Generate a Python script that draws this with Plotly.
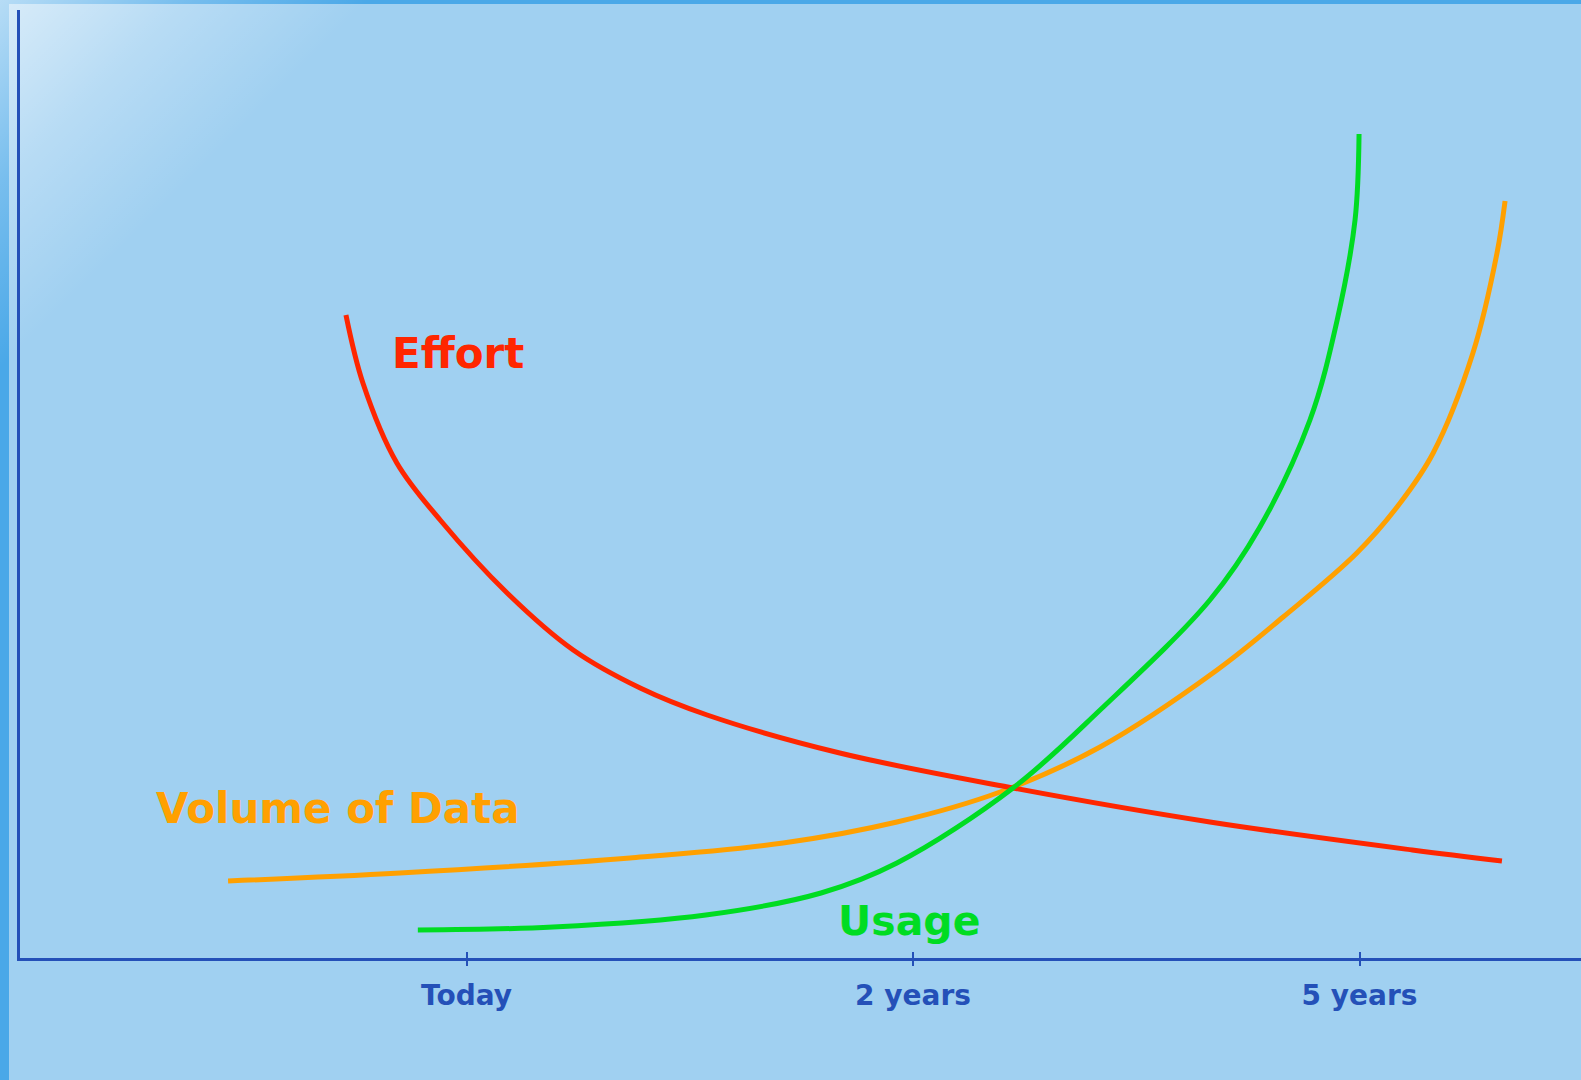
import base64
import plotly.graph_objects as go

# ---- data (x in "years axis" units: Today=1, 2 years=2, 5 years=3) ----
tick_vals = [1, 2, 3]
tick_text = ["Today", "2 years", "5 years"]

effort_x = [0.730, 0.768, 0.844, 0.941, 1.091, 1.239, 1.389, 1.539, 1.836, 2.224, 2.665, 3.118, 3.319]
effort_y = [6.43, 5.75, 4.95, 4.38, 3.65, 3.08, 2.70, 2.43, 2.05, 1.70, 1.36, 1.08, 0.97]

usage_x = [0.891, 1.194, 1.536, 1.794, 1.964, 2.224, 2.419, 2.665, 2.777, 2.889, 2.950, 2.990, 2.999]
usage_y = [0.28, 0.31, 0.43, 0.65, 0.95, 1.70, 2.48, 3.58, 4.31, 5.38, 6.38, 7.38, 8.24]

volume_x = [0.466, 0.851, 1.366, 1.709, 1.964, 2.195, 2.419, 2.681, 2.829, 2.994, 3.091, 3.165, 3.254, 3.308, 3.326]
volume_y = [0.77, 0.85, 1.00, 1.15, 1.36, 1.66, 2.11, 2.88, 3.41, 4.05, 4.55, 5.05, 6.05, 7.05, 7.57]

labels = ["Effort", "Volume of Data", "Usage"]
label_x = [0.980, 0.712, 1.993]
label_y = [6.05, 1.50, 0.37]

# ---- styles ----
RED = "#FF2600"
ORANGE = "#FFA000"
GREEN = "#00DC22"
AXIS = "#2450B8"
BG = "#A0D0F1"
BAND = "#4AA8E8"
W, H = 1581, 1080
FONT = "DejaVu Sans"

svg = f'''<svg xmlns="http://www.w3.org/2000/svg" width="{W}" height="{H}" viewBox="0 0 {W} {H}">
<defs><linearGradient id="g" gradientUnits="userSpaceOnUse" x1="0" y1="0" x2="185" y2="185">
<stop offset="0" stop-color="#ffffff" stop-opacity="0.6"/>
<stop offset="0.5" stop-color="#ffffff" stop-opacity="0.25"/>
<stop offset="1" stop-color="#ffffff" stop-opacity="0"/>
</linearGradient></defs>
<rect x="0" y="0" width="{W}" height="{H}" fill="{BG}"/>
<rect x="0" y="0" width="9" height="{H}" fill="{BAND}"/>
<rect x="0" y="0" width="{W}" height="4" fill="{BAND}"/>
<rect x="0" y="0" width="{W}" height="{H}" fill="url(#g)"/>
</svg>'''
src = "data:image/svg+xml;base64," + base64.b64encode(svg.encode()).decode()

fig = go.Figure()
for xs, ys, col in [(volume_x, volume_y, ORANGE), (effort_x, effort_y, RED), (usage_x, usage_y, GREEN)]:
    fig.add_trace(go.Scatter(x=xs, y=ys, mode="lines",
                             line=dict(color=col, width=5, shape="spline", smoothing=1.0),
                             hoverinfo="skip", showlegend=False))
# helper trace on second axis so the inside ticks are drawn
fig.add_trace(go.Scatter(x=[None], y=[None], xaxis="x2", yaxis="y", showlegend=False,
                         hoverinfo="skip"))

for t, x, y, c, s in zip(labels, label_x, label_y, [RED, ORANGE, GREEN], [42, 42, 41]):
    fig.add_annotation(x=x, y=y, text=t, showarrow=False, xanchor="center", yanchor="middle",
                       font=dict(family=FONT, size=s, color=c, weight="bold"))

x_dom0 = 20 / W
y_dom0 = (H - 958) / H
y_dom1 = (H - 10) / H
xr = [0, (W - 20) / 446.5]
yr = [0, 9.48]

fig.update_layout(
    width=W, height=H,
    margin=dict(l=0, r=0, t=0, b=0),
    paper_bgcolor=BG, plot_bgcolor="rgba(0,0,0,0)",
    hovermode=False,
    images=[dict(source=src, xref="paper", yref="paper", x=0, y=1, sizex=1, sizey=1,
                 xanchor="left", yanchor="top", sizing="stretch", layer="below")],
    xaxis=dict(domain=[x_dom0, 1], range=xr, showgrid=False, zeroline=False,
               showline=True, linecolor=AXIS, linewidth=3,
               tickmode="array", tickvals=tick_vals, ticktext=tick_text,
               ticks="outside", ticklen=5, tickwidth=2, tickcolor=AXIS,
               ticklabelstandoff=5,
               tickfont=dict(family=FONT, size=28, color=AXIS, weight="bold")),
    xaxis2=dict(domain=[x_dom0, 1], range=xr, overlaying="x", anchor="y",
                showgrid=False, zeroline=False, showline=False,
                tickmode="array", tickvals=tick_vals, ticktext=["", "", ""],
                ticks="inside", ticklen=6, tickwidth=2, tickcolor=AXIS, side="bottom"),
    yaxis=dict(domain=[y_dom0, y_dom1], range=yr, showgrid=False, zeroline=False,
               showline=True, linecolor=AXIS, linewidth=3, showticklabels=False, ticks=""),
)

fig.write_html("out.html", config={"displayModeBar": False, "staticPlot": True},
               post_script="document.body.style.margin='0';document.body.style.overflow='hidden';")
